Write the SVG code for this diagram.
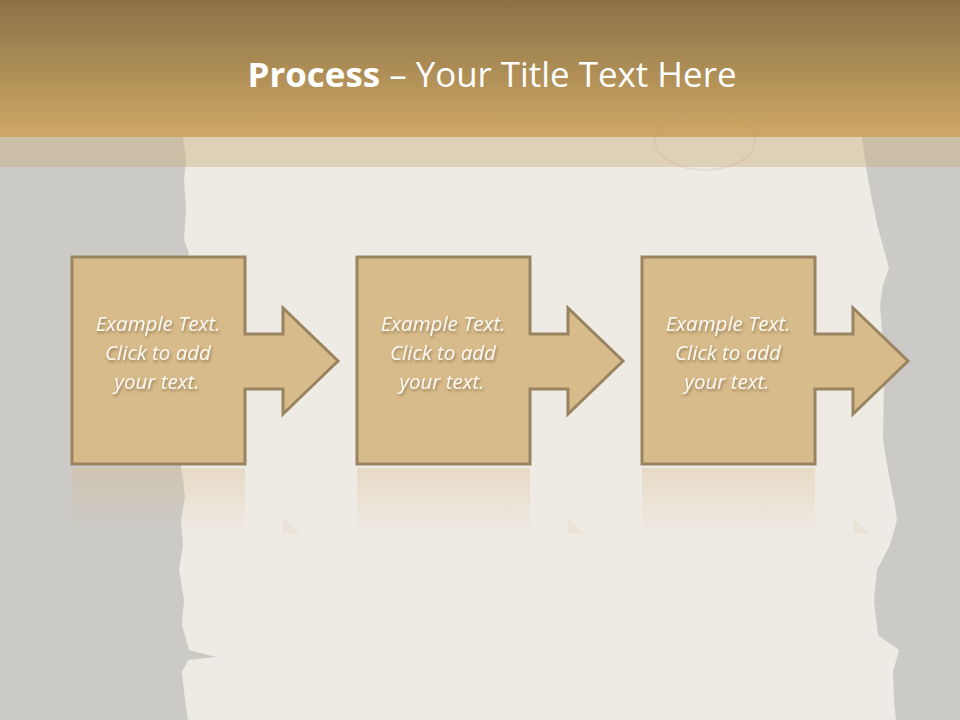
<svg xmlns="http://www.w3.org/2000/svg" width="960" height="720" viewBox="0 0 960 720">
<defs>
<linearGradient id="hdr" x1="0" y1="0" x2="0" y2="1">
<stop offset="0" stop-color="#8b7247"/>
<stop offset="1" stop-color="#cea865"/>
</linearGradient>
<linearGradient id="refl" x1="0" y1="0" x2="0" y2="1">
<stop offset="0" stop-color="#d9bc8c" stop-opacity="0.35"/>
<stop offset="1" stop-color="#d9bc8c" stop-opacity="0"/>
</linearGradient>
<filter id="sh" x="-20%" y="-20%" width="140%" height="160%">
<feDropShadow dx="1" dy="2" stdDeviation="1.5" flood-color="#5a4520" flood-opacity="0.55"/>
</filter>
<path id="shape" d="M0,0 H173 V77 H211 V51 L266,104 L211,157 V132 H173 V207 H0 Z"/>
</defs>
<style>
.box{fill:#d8bb8b;stroke:#9a8460;stroke-width:3;stroke-linejoin:miter}
.lbl{font-family:"Open Sans","Liberation Sans",sans-serif;font-style:italic;font-size:20.5px;fill:#fbf8f2;text-anchor:middle;filter:url(#sh)}
.ttl{font-family:"Open Sans","Liberation Sans",sans-serif;font-size:34px;fill:#ffffff}
</style>
<rect width="960" height="720" fill="#cbcac7"/>
<g id="paper">
<path d="M183,137 H862 L866,167 L872,200 L878,228 L884,250 L889,268 L883,285 L880,305 L882,330 L884,380 L883,440 L888,470 L895,505 L897,520 L890,545 L877,570 L874,600 L878,635 L899,650 L893,672 L894,700 L896,720 H188 L185,700 L182,672 L188,660 L216,657 L189,650 L182,625 L184,600 L179,570 L183,545 L181,520 L185,497 L183,480 L180,460 L186,440 L182,420 L183,380 L181,340 L183,300 L182,270 L189,253 L184,240 L186,210 L184,180 L186,160 Z" fill="#eeeae4"/>
</g>
<g id="header">
<rect x="0" y="0" width="960" height="137" fill="url(#hdr)"/>
<rect x="0" y="137" width="960" height="30" fill="#cbae7a" opacity="0.42"/>
<ellipse cx="705" cy="140" rx="50" ry="30" fill="none" stroke="#b9a27d" stroke-width="2" opacity="0.18"/>
<text class="ttl" x="492" y="87" text-anchor="middle" textLength="489" lengthAdjust="spacingAndGlyphs"><tspan font-weight="bold">Process</tspan> – Your Title Text Here</text>
</g>
<g id="reflections">
<rect x="72" y="468" width="173" height="65" fill="url(#refl)"/>
<rect x="357" y="468" width="173" height="65" fill="url(#refl)"/>
<rect x="642" y="468" width="173" height="65" fill="url(#refl)"/>
<path d="M283,518 L300,534 L283,534 Z" fill="#d9bc8c" opacity="0.15"/>
<path d="M568,518 L585,534 L568,534 Z" fill="#d9bc8c" opacity="0.15"/>
<path d="M853,518 L870,534 L853,534 Z" fill="#d9bc8c" opacity="0.15"/>
</g>
<g id="step1" transform="translate(72,257)">
<use href="#shape" class="box"/>
<text class="lbl" x="86" y="74">Example Text.</text>
<text class="lbl" x="86" y="103">Click  to add</text>
<text class="lbl" x="85" y="132">your text.</text>
</g>
<g id="step2" transform="translate(357,257)">
<use href="#shape" class="box"/>
<text class="lbl" x="86" y="74">Example Text.</text>
<text class="lbl" x="86" y="103">Click  to add</text>
<text class="lbl" x="85" y="132">your text.</text>
</g>
<g id="step3" transform="translate(642,257)">
<use href="#shape" class="box"/>
<text class="lbl" x="86" y="74">Example Text.</text>
<text class="lbl" x="86" y="103">Click  to add</text>
<text class="lbl" x="85" y="132">your text.</text>
</g>
<g id="connectors"></g>
</svg>
